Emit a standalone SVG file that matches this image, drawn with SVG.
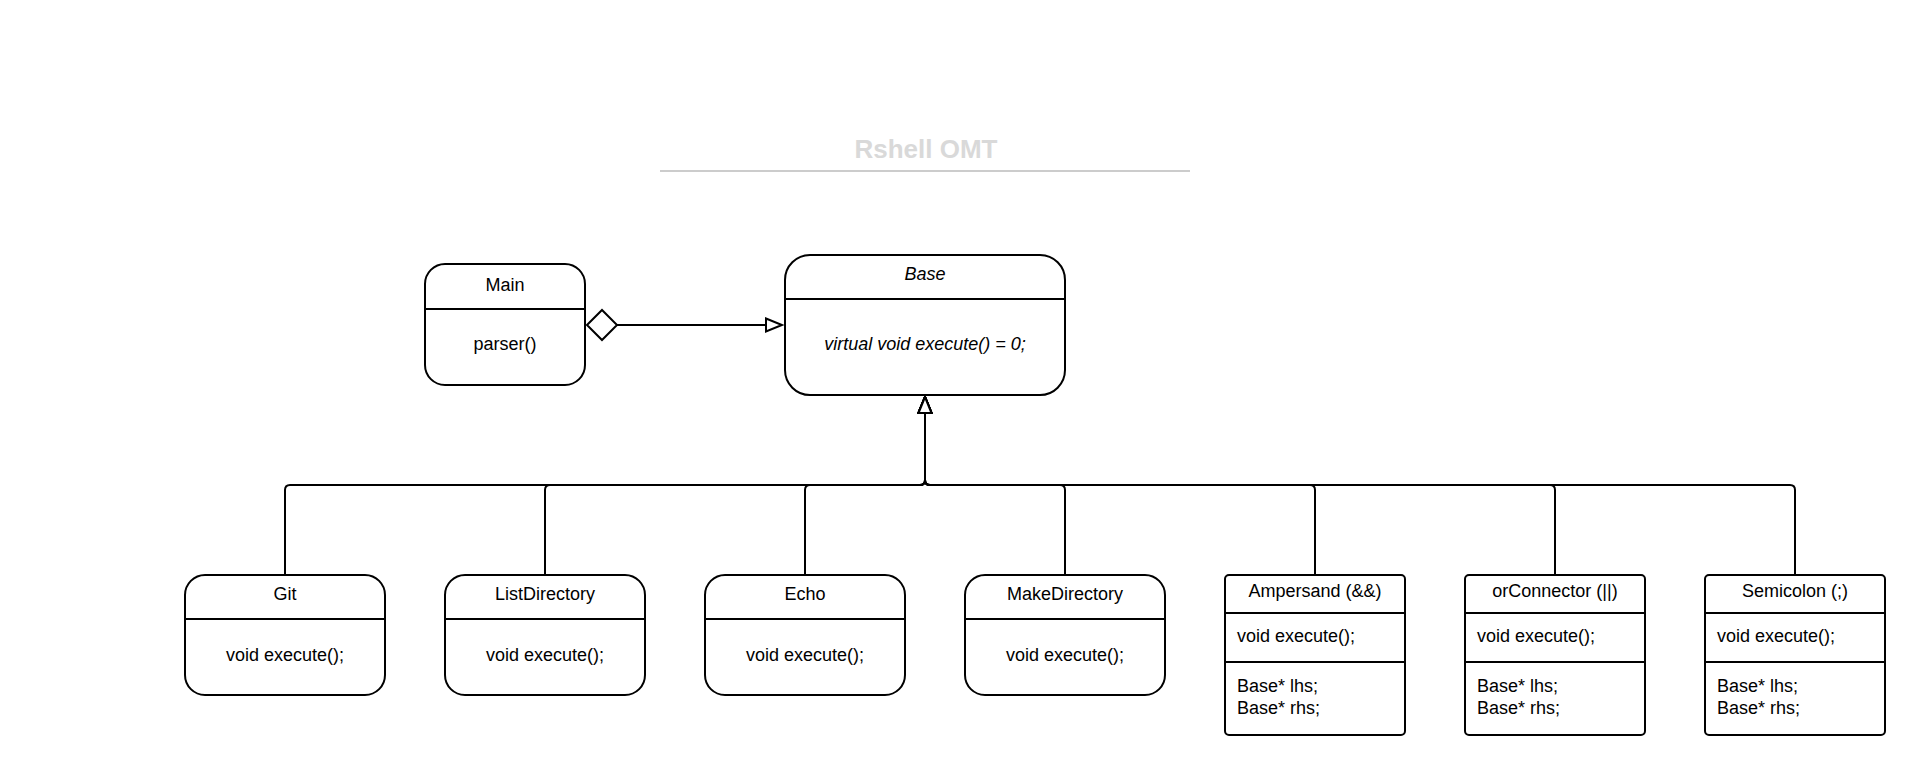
<svg xmlns="http://www.w3.org/2000/svg" width="1925" height="775" viewBox="0 0 1925 775">
<style>
.box{fill:#fff;stroke:#000;stroke-width:2}
.div{stroke:#000;stroke-width:2}
.t{font-family:"Liberation Sans",Arial,sans-serif;font-size:18px;fill:#000}
.c{text-anchor:middle}
.i{font-style:italic}
.conn{fill:none;stroke:#000;stroke-width:2}
.title{font-family:"Liberation Sans",Arial,sans-serif;font-size:26px;font-weight:bold;fill:#d9d9d9;text-anchor:middle}
</style>
<defs>
<marker id="tri" markerUnits="userSpaceOnUse" markerWidth="20" markerHeight="16" refX="16" refY="6.5" orient="auto" viewBox="-2 -2 20 16">
<path d="M0,0 L16,6.5 L0,13 z" fill="#fff" stroke="#000" stroke-width="2"/>
</marker>
<marker id="dia" markerUnits="userSpaceOnUse" markerWidth="34" markerHeight="34" refX="0" refY="15" orient="auto" viewBox="-2 -2 34 34">
<path d="M0,15 L15,0 L30,15 L15,30 z" fill="#fff" stroke="#000" stroke-width="2"/>
</marker>
</defs>
<g id="title">
<text class="title" x="926" y="158">Rshell OMT</text>
<line x1="660" y1="171" x2="1190" y2="171" stroke="#cccccc" stroke-width="2"/>
</g>
<g id="connectors">
<path class="conn" d="M587,325 H782" marker-start="url(#dia)" marker-end="url(#tri)"/>
<path class="conn" d="M285,575 V490 Q285,485 290,485 H920 Q925,485 925,480 V397" marker-end="url(#tri)"/>
<path class="conn" d="M545,575 V490 Q545,485 550,485 H920 Q925,485 925,480 V397" marker-end="url(#tri)"/>
<path class="conn" d="M805,575 V490 Q805,485 810,485 H920 Q925,485 925,480 V397" marker-end="url(#tri)"/>
<path class="conn" d="M1065,575 V490 Q1065,485 1060,485 H930 Q925,485 925,480 V397" marker-end="url(#tri)"/>
<path class="conn" d="M1315,575 V490 Q1315,485 1310,485 H930 Q925,485 925,480 V397" marker-end="url(#tri)"/>
<path class="conn" d="M1555,575 V490 Q1555,485 1550,485 H930 Q925,485 925,480 V397" marker-end="url(#tri)"/>
<path class="conn" d="M1795,575 V490 Q1795,485 1790,485 H930 Q925,485 925,480 V397" marker-end="url(#tri)"/>
</g>
<g id="Main">
<rect class="box" x="425" y="264" width="160" height="121" rx="20"/>
<line class="div" x1="425" y1="309" x2="585" y2="309"/>
<text class="t c" x="505" y="291">Main</text>
<text class="t c" x="505" y="350">parser()</text>
</g>
<g id="Base">
<rect class="box" x="785" y="255" width="280" height="140" rx="25"/>
<line class="div" x1="785" y1="299" x2="1065" y2="299"/>
<text class="t c i" x="925" y="280">Base</text>
<text class="t c i" x="925" y="350">virtual void execute() = 0;</text>
</g>
<g id="Git">
<rect class="box" x="185" y="575" width="200" height="120" rx="20"/>
<line class="div" x1="185" y1="619" x2="385" y2="619"/>
<text class="t c" x="285" y="600">Git</text>
<text class="t c" x="285" y="661">void execute();</text>
</g>
<g id="ListDirectory">
<rect class="box" x="445" y="575" width="200" height="120" rx="20"/>
<line class="div" x1="445" y1="619" x2="645" y2="619"/>
<text class="t c" x="545" y="600">ListDirectory</text>
<text class="t c" x="545" y="661">void execute();</text>
</g>
<g id="Echo">
<rect class="box" x="705" y="575" width="200" height="120" rx="20"/>
<line class="div" x1="705" y1="619" x2="905" y2="619"/>
<text class="t c" x="805" y="600">Echo</text>
<text class="t c" x="805" y="661">void execute();</text>
</g>
<g id="MakeDirectory">
<rect class="box" x="965" y="575" width="200" height="120" rx="20"/>
<line class="div" x1="965" y1="619" x2="1165" y2="619"/>
<text class="t c" x="1065" y="600">MakeDirectory</text>
<text class="t c" x="1065" y="661">void execute();</text>
</g>
<g id="Ampersand">
<rect class="box" x="1225" y="575" width="180" height="160" rx="4"/>
<line class="div" x1="1225" y1="613" x2="1405" y2="613"/>
<line class="div" x1="1225" y1="662" x2="1405" y2="662"/>
<text class="t c" x="1315" y="597">Ampersand (&amp;&amp;)</text>
<text class="t" x="1237" y="642">void execute();</text>
<text class="t" x="1237" y="692">Base* lhs;</text>
<text class="t" x="1237" y="714">Base* rhs;</text>
</g>
<g id="orConnector">
<rect class="box" x="1465" y="575" width="180" height="160" rx="4"/>
<line class="div" x1="1465" y1="613" x2="1645" y2="613"/>
<line class="div" x1="1465" y1="662" x2="1645" y2="662"/>
<text class="t c" x="1555" y="597">orConnector (||)</text>
<text class="t" x="1477" y="642">void execute();</text>
<text class="t" x="1477" y="692">Base* lhs;</text>
<text class="t" x="1477" y="714">Base* rhs;</text>
</g>
<g id="Semicolon">
<rect class="box" x="1705" y="575" width="180" height="160" rx="4"/>
<line class="div" x1="1705" y1="613" x2="1885" y2="613"/>
<line class="div" x1="1705" y1="662" x2="1885" y2="662"/>
<text class="t c" x="1795" y="597">Semicolon (;)</text>
<text class="t" x="1717" y="642">void execute();</text>
<text class="t" x="1717" y="692">Base* lhs;</text>
<text class="t" x="1717" y="714">Base* rhs;</text>
</g>
</svg>
